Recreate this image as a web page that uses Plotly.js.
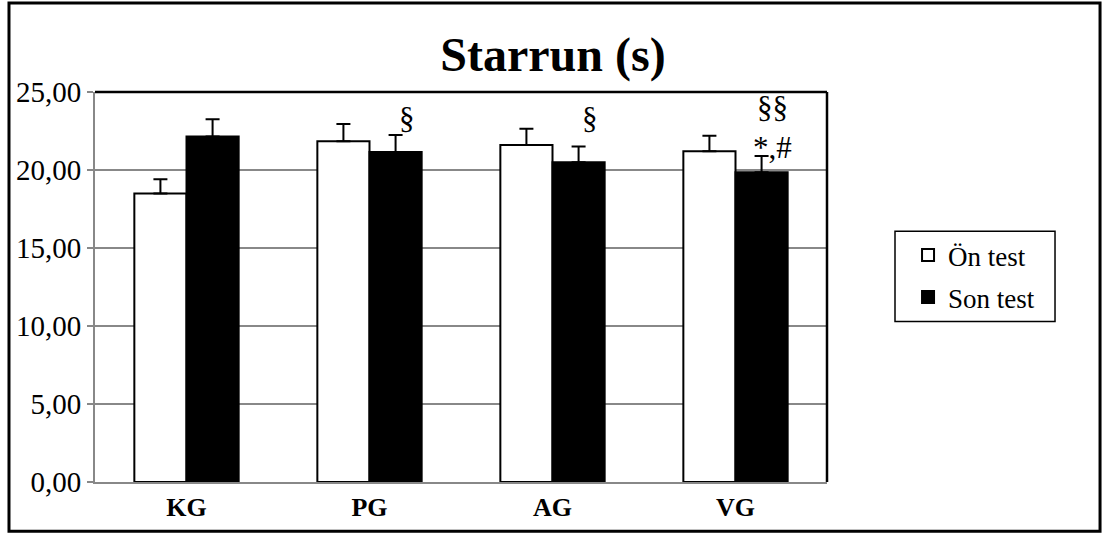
<!DOCTYPE html>
<html>
<head>
<meta charset="utf-8">
<script src="https://cdn.plot.ly/plotly-3.0.1.min.js"></script>
<style>
html,body{margin:0;padding:0;background:#fff;}
#chart{width:1106px;height:538px;}
</style>
</head>
<body>
<div id="chart"></div>
<script>
const categories = ["KG", "PG", "AG", "VG"];
const onTest = [18.5, 21.85, 21.6, 21.2];
const onTestErr = [0.9, 1.1, 1.05, 1.0];
const sonTest = [22.15, 21.15, 20.5, 19.85];
const sonTestErr = [1.1, 1.1, 1.0, 1.05];
const seriesNames = ["Ön test", "Son test"];
const yTicks = [0, 5, 10, 15, 20, 25];
const yTickLabels = ["0,00", "5,00", "10,00", "15,00", "20,00", "25,00"];
const marks = ["", "§", "§", "§§<br>*,#"];
const markY = [0, 23.3, 23.3, 22.7];

const serif = "Liberation Serif, Times New Roman, serif";

const traces = [
  {
    type: "bar", name: seriesNames[0], x: categories, y: onTest, legendgroup: "g1",
    marker: {color: "#ffffff", line: {color: "#000000", width: 2}},
    error_y: {type: "data", array: onTestErr, arrayminus: onTestErr.map(() => 0), symmetric: false,
      color: "#000000", thickness: 2, width: 7}
  },
  {
    type: "bar", name: seriesNames[1], x: categories, y: sonTest, legendgroup: "g2",
    marker: {color: "#000000", line: {color: "#000000", width: 2}},
    error_y: {type: "data", array: sonTestErr, arrayminus: sonTestErr.map(() => 0), symmetric: false,
      color: "#000000", thickness: 2, width: 7}
  }
];

const annotations = [];
categories.forEach((c, i) => {
  if (marks[i]) {
    annotations.push({
      x: c, y: markY[i], xref: "x", yref: "y", text: marks[i], showarrow: false,
      xshift: 37, yanchor: "middle", font: {family: serif, size: 31, color: "#000"}
    });
  }
});

const layout = {
  width: 1106, height: 538,
  margin: {l: 95, r: 279, t: 92, b: 56},
  paper_bgcolor: "#ffffff", plot_bgcolor: "#ffffff",
  title: {text: "<b>Starrun (s)</b>", x: 0.5, xref: "container", y: 0.9, yref: "container", yanchor: "middle",
    font: {family: serif, size: 48, color: "#000"}},
  barmode: "group", bargap: 0.43, bargroupgap: 0,
  showlegend: true,
  legend: {x: 1.1107, xanchor: "left", y: 0.527, yanchor: "middle",
    borderwidth: 0, bgcolor: "rgba(0,0,0,0)",
    font: {family: serif, size: 27, color: "#000"}, itemwidth: 30, tracegroupgap: 4},
  xaxis: {
    type: "category", showgrid: false, showline: true, linecolor: "#888", linewidth: 2,
    ticks: "", tickfont: {family: serif, size: 26, color: "#000"},
    tickvals: categories, ticktext: categories.map(c => "<b>" + c + "</b>"),
    ticklabelstandoff: 1, fixedrange: true
  },
  yaxis: {
    range: [0, 25], tickvals: yTicks, ticktext: yTickLabels,
    showgrid: true, gridcolor: "#888", gridwidth: 1.5,
    showline: true, linecolor: "#888", linewidth: 2,
    ticks: "outside", ticklen: 6, tickcolor: "#888", tickwidth: 1.5,
    tickfont: {family: serif, size: 29, color: "#000"}, zeroline: false, fixedrange: true
  },
  shapes: [
    {type: "line", xref: "paper", yref: "paper", x0: 0, x1: 1, y0: 1, y1: 1, line: {color: "#000", width: 2.5}},
    {type: "line", xref: "paper", yref: "paper", x0: 1, x1: 1, y0: 0, y1: 1, line: {color: "#000", width: 2.5}},
    {type: "rect", xref: "paper", yref: "paper", x0: -0.1175, x1: 1.373, y0: -0.126, y1: 1.2285,
      line: {color: "#000", width: 3}, layer: "below"},
    {type: "rect", xref: "paper", yref: "paper", x0: 1.0929, x1: 1.3115, y0: 0.4113, y1: 0.6427,
      line: {color: "#000", width: 1.5}, layer: "below"}
  ],
  annotations: annotations
};

Plotly.newPlot("chart", traces, layout, {displayModeBar: false, staticPlot: true});
</script>
</body>
</html>
